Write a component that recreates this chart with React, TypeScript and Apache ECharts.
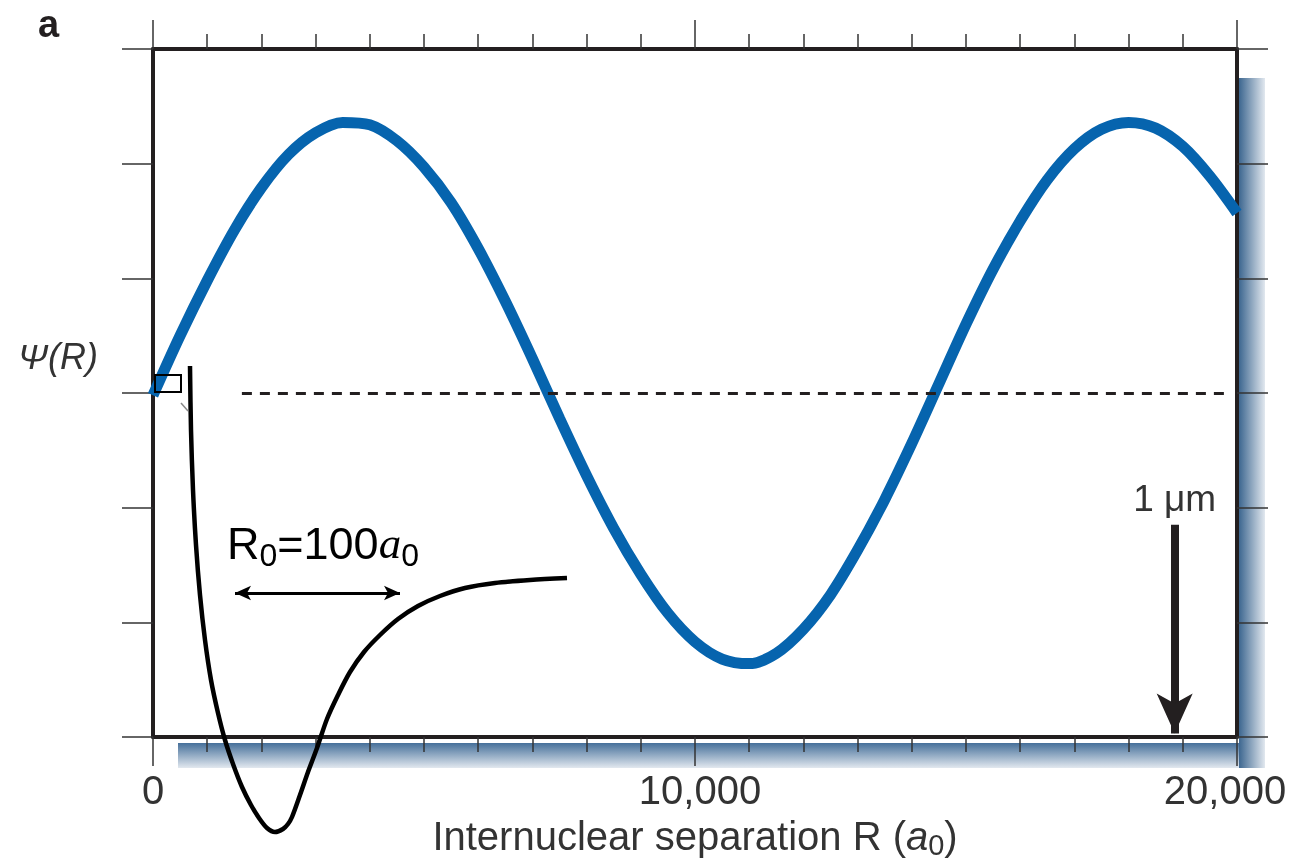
import React, { useEffect, useRef } from "react";
import * as echarts from "echarts";

// Main wavefunction Psi(R), R in Bohr radii (every 500 a0)
const R_VALUES = [0, 500, 1000, 1500, 2000, 2500, 3000, 3500, 4000, 4500, 5000, 5500, 6000, 6500, 7000, 7500, 8000, 8500, 9000, 9500, 10000, 10500, 11000, 11500, 12000, 12500, 13000, 13500, 14000, 14500, 15000, 15500, 16000, 16500, 17000, 17500, 18000, 18500, 19000, 19500, 20000];
const PSI_VALUES = [-0.02, 0.5, 0.98, 1.42, 1.79, 2.08, 2.27, 2.36, 2.34, 2.2, 1.97, 1.66, 1.26, 0.8, 0.3, -0.22, -0.72, -1.18, -1.58, -1.92, -2.17, -2.32, -2.36, -2.27, -2.06, -1.76, -1.37, -0.93, -0.44, 0.08, 0.6, 1.08, 1.5, 1.86, 2.13, 2.3, 2.36, 2.31, 2.15, 1.89, 1.57];

// Inset: molecular potential well (arbitrary units)
const INSET_R = [10, 11, 13, 16, 20, 25, 31, 38, 45, 53, 62, 71, 79, 87, 95, 103, 108, 112, 120, 128, 137, 147, 158, 170, 184, 200, 218, 238, 260, 285, 315, 350, 387];
const INSET_V = [211, 147, 87, 32, -18, -63, -103, -136, -163, -187, -210, -228, -241, -251, -255, -252, -247, -240, -218, -195, -171, -142, -118, -95, -75, -58, -42, -29, -19, -11, -6, -3, -1];

const X_TICK_LABELS = ["0", "10,000", "20,000"];
const DASH_SPAN = [1640, 19780];
const MICRON_R = 18850;
const MICRON_SPAN = [-1.15, -2.97];
const R0_SPAN = [55, 220];
const R0_LEVEL = -16;

export default function App() {
  const ref = useRef<HTMLDivElement>(null);
  useEffect(() => {
    const chart = echarts.init(ref.current!, null, { renderer: "svg" });
    const FONT = '"Liberation Sans", Arial, sans-serif';
    const ink = "#231f20";
    const gray = "#333333";
    const axisBase = {
      type: "value",
      min: 0,
      max: 20000,
      interval: 10000,
      axisLine: { show: true, onZero: false, lineStyle: { color: ink, width: 4 } },
      axisTick: { show: true, length: 29, lineStyle: { color: gray, width: 1.5 } },
      minorTick: { show: true, splitNumber: 10, length: 15, lineStyle: { color: gray, width: 1.5 } },
      splitLine: { show: false },
      minorSplitLine: { show: false },
    };
    const yBase = {
      type: "value",
      min: -3,
      max: 3,
      interval: 1,
      axisLine: { show: true, onZero: false, lineStyle: { color: ink, width: 4 } },
      axisTick: { show: true, length: 31, lineStyle: { color: gray, width: 1.5 } },
      axisLabel: { show: false },
      splitLine: { show: false },
    };
    const LS = 40;
    const labelRich = {
      m: { fontSize: LS, color: gray, fontFamily: FONT, padding: [0, 0, 0, 10] },
      e: { fontSize: LS, color: gray, fontFamily: FONT, padding: [0, 24, 0, 0] },
      z: { fontSize: LS, color: gray, fontFamily: FONT },
    };
    const NS = 40;
    const option = {
      animation: false,
      grid: [
        { left: 153, top: 49, width: 1084, height: 692 },
        { left: 180, top: 360, width: 400, height: 480 },
      ],
      xAxis: [
        {
          ...axisBase,
          gridIndex: 0,
          position: "bottom",
          axisLabel: {
            margin: 33,
            fontSize: LS,
            color: gray,
            fontFamily: FONT,
            rich: labelRich,
            formatter: (v: number) =>
              v === 0 ? `{z|${X_TICK_LABELS[0]}}` : v === 10000 ? `{m|${X_TICK_LABELS[1]}}` : `{e|${X_TICK_LABELS[2]}}`,
          },
          name: "Internuclear separation R ({i|a}{s|0})",
          nameLocation: "middle",
          nameGap: 75,
          nameTextStyle: {
            fontSize: NS,
            color: gray,
            fontFamily: FONT,
            rich: {
              i: { fontSize: NS, color: gray, fontFamily: FONT, fontStyle: "italic" },
              s: { fontSize: 29, color: gray, fontFamily: FONT, padding: [18, 0, 0, 0] },
            },
          },
        },
        { ...axisBase, gridIndex: 0, position: "top", axisLabel: { show: false } },
        { type: "value", gridIndex: 1, min: 0, max: 400, show: false },
      ],
      yAxis: [
        { ...yBase, gridIndex: 0, position: "left" },
        { ...yBase, gridIndex: 0, position: "right" },
        { type: "value", gridIndex: 1, min: -263, max: 217, show: false },
      ],
      series: [
        {
          type: "line",
          xAxisIndex: 0,
          yAxisIndex: 0,
          data: R_VALUES.map((r, i) => [r, PSI_VALUES[i]]),
          smooth: 0.3,
          showSymbol: false,
          lineStyle: { color: "#0664ae", width: 11 },
          z: 3,
        },
        {
          type: "line",
          xAxisIndex: 0,
          yAxisIndex: 0,
          data: [],
          markLine: {
            silent: true,
            symbol: ["none", "none"],
            label: { show: false },
            lineStyle: { type: [10, 8], width: 3, color: ink },
            data: [[{ coord: [DASH_SPAN[0], 0] }, { coord: [DASH_SPAN[1], 0] }]],
          },
        },
        {
          type: "line",
          xAxisIndex: 0,
          yAxisIndex: 0,
          data: [],
          markLine: {
            silent: true,
            symbol: ["none", "arrow"],
            label: { show: true, position: "start", formatter: "1 μm", fontSize: 37, color: gray, fontFamily: FONT, distance: 8 },
            lineStyle: { type: "solid", width: 8, color: ink },
            data: [[
              { coord: [MICRON_R, MICRON_SPAN[0]] },
              { coord: [MICRON_R, MICRON_SPAN[1]], symbolSize: [27, 40] },
            ]],
          },
        },
        {
          type: "line",
          xAxisIndex: 2,
          yAxisIndex: 2,
          data: INSET_R.map((r, i) => [r, INSET_V[i]]),
          smooth: 0.3,
          showSymbol: false,
          clip: false,
          lineStyle: { color: "#000000", width: 4.5 },
          z: 4,
        },
        {
          type: "line",
          xAxisIndex: 2,
          yAxisIndex: 2,
          data: [],
          markLine: {
            silent: true,
            symbol: ["arrow", "arrow"],
            label: { show: false },
            lineStyle: { type: "solid", width: 3, color: "#000000" },
            data: [[
              { coord: [R0_SPAN[0], R0_LEVEL], symbolSize: [11, 16] },
              { coord: [R0_SPAN[1], R0_LEVEL], symbolSize: [11, 16] },
            ]],
          },
        },
      ],
      graphic: [
        {
          type: "rect",
          z: -1,
          shape: { x: 1239, y: 78, width: 26, height: 690 },
          style: {
            fill: new echarts.graphic.LinearGradient(0, 0, 1, 0, [
              { offset: 0, color: "#3d6790" },
              { offset: 1, color: "#e2e8ef" },
            ]),
          },
        },
        {
          type: "rect",
          z: -1,
          shape: { x: 178, y: 743, width: 1061, height: 25 },
          style: {
            fill: new echarts.graphic.LinearGradient(0, 0, 0, 1, [
              { offset: 0, color: "#46709a" },
              { offset: 1, color: "#e2e8ef" },
            ]),
          },
        },
        {
          type: "text",
          x: 38,
          y: 24,
          style: { text: "a", font: `bold 38px ${FONT}`, fill: ink, textVerticalAlign: "middle" },
        },
        {
          type: "text",
          x: 18,
          y: 356,
          style: { text: "Ψ(R)", font: `italic 36px ${FONT}`, fill: gray, textVerticalAlign: "middle" },
        },
        {
          type: "text",
          x: 227,
          y: 543,
          z: 10,
          style: {
            text: "{r|R}{s|0}{r|=100}{i|a}{s|0}",
            textVerticalAlign: "middle",
            rich: {
              r: { fontSize: 45, fontFamily: FONT, fill: "#000" },
              i: { fontSize: 45, fontFamily: '"Liberation Serif", serif', fontStyle: "italic", fill: "#000" },
              s: { fontSize: 32, fontFamily: FONT, fill: "#000", padding: [24, 0, 0, 0] },
            },
          },
        },
        {
          type: "rect",
          z: 10,
          shape: { x: 155, y: 375, width: 26, height: 17 },
          style: { fill: "none", stroke: "#000", lineWidth: 2 },
        },
        {
          type: "line",
          z: 10,
          shape: { x1: 181, y1: 403, x2: 188, y2: 411 },
          style: { stroke: "#888", lineWidth: 1.5 },
        },
      ],
    };
    chart.setOption(option as any);
    return () => chart.dispose();
  }, []);
  return <div ref={ref} style={{ position: "fixed", left: 0, top: 0, width: 1294, height: 864 }} />;
}
